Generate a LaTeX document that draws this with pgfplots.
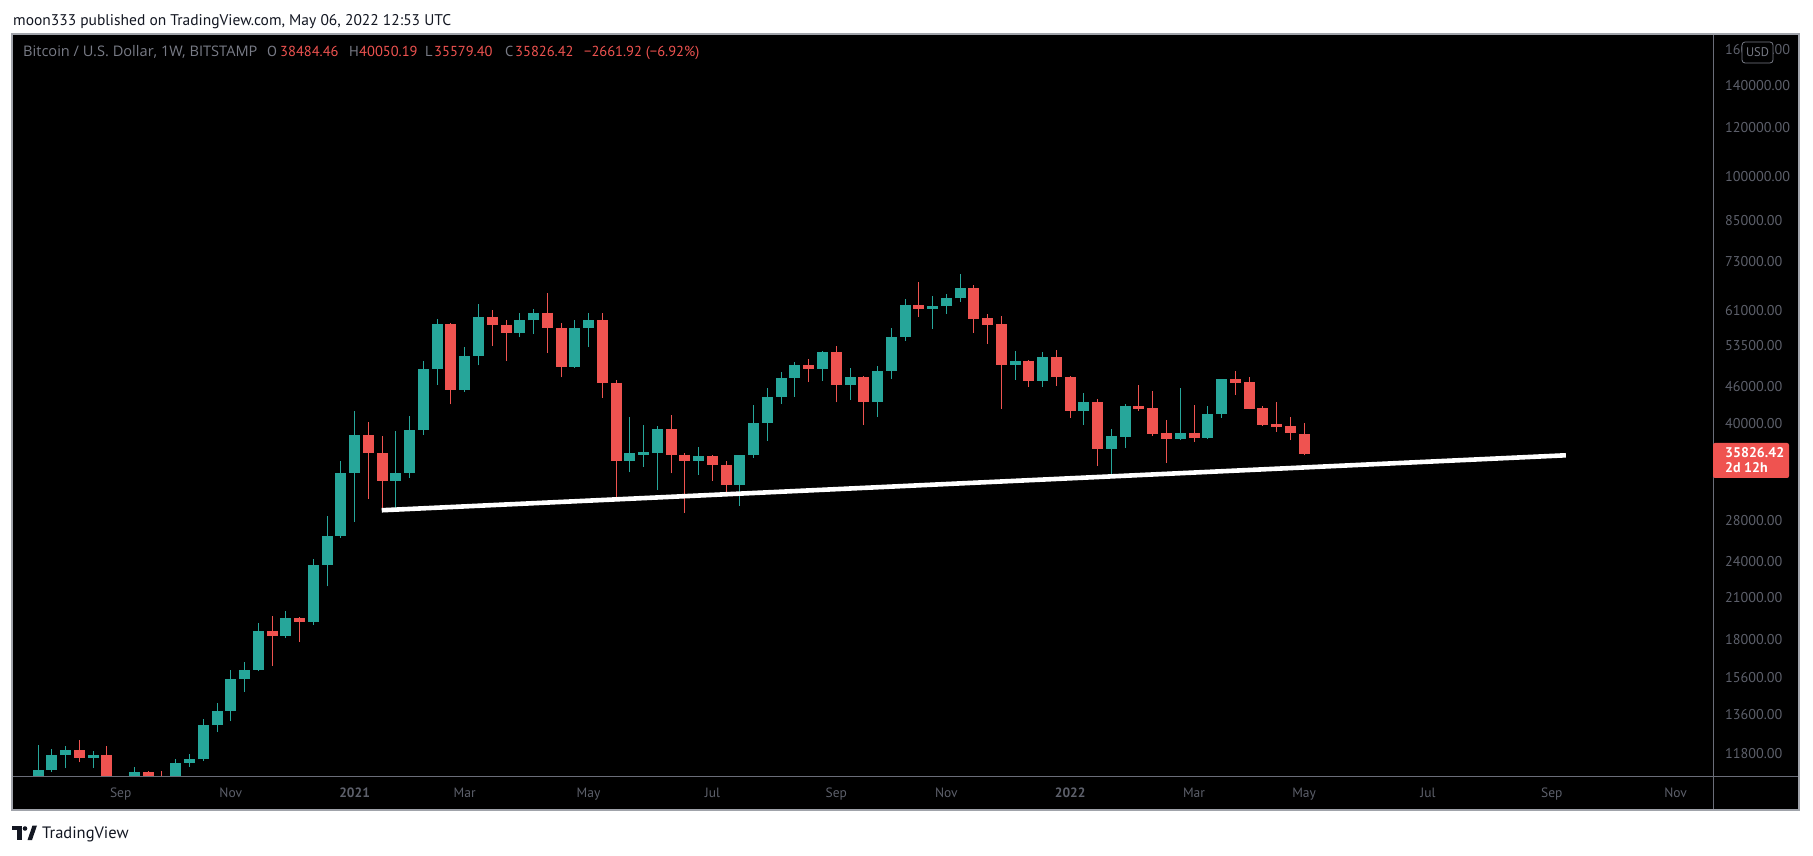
\documentclass[border=0pt]{standalone}
\usepackage{fontspec}
\setmainfont{PT Sans}
\newfontfamily\legfont{Open Sans}
\usepackage{pgfplots}
\usepackage{pgfplotstable}
\pgfplotsset{compat=1.18}
\definecolor{up}{HTML}{26A69A}
\definecolor{dn}{HTML}{EF5350}
\definecolor{lbl}{HTML}{5D606B}
\definecolor{hdr}{HTML}{787B86}
\definecolor{sepc}{HTML}{6A6D78}
\definecolor{ink}{HTML}{131722}

% weekly candles: k = week index (0 = week of 4 Jan 2021)
\pgfplotstableread{
k O H L C
-24 9160 10200 9150 9930
-23 9930 12160 9880 11100
-22 11100 12000 10990 11710
-21 11710 12100 11160 11930
-20 11930 12400 11400 11600
-19 11600 11890 11160 11720
-18 11720 12100 9850 10240
-17 10240 10780 9880 10330
-16 10330 11220 10200 10990
-15 10990 11060 10150 10780
-14 10780 11030 10370 10620
-13 10620 11530 10530 11390
-12 11390 11760 11220 11530
-11 11530 13400 11450 13090
-10 13090 14200 12750 13790
-9 13790 16060 13270 15530
-8 15530 16570 14800 16060
-7 16060 19100 15970 18560
-6 18560 19620 16300 18220
-5 18220 19980 18100 19470
-4 19470 19540 17800 19190
-3 19190 24200 19000 23700
-2 23700 28400 21900 26400
-1 26400 34900 26200 33350
0 33350 42000 27800 38400
1 38400 40200 30300 35900
2 35900 38200 29000 32400
3 32400 39000 29300 33350
4 33350 41200 32700 39100
5 39100 50400 38400 49000
6 49000 58900 46200 57900
7 57900 58100 43000 45400
8 45400 53100 45000 51450
9 51450 62300 49700 59450
10 59450 61000 53400 57800
11 57800 58700 50500 56100
12 56100 60400 55100 58700
13 58700 61300 55800 60400
14 60400 65000 52000 57000
15 57000 58100 47500 49400
16 49400 58700 49200 57100
17 57100 60300 53200 58700
18 58700 60300 44000 46600
19 46600 47100 30300 34860
20 34860 41000 33400 35900
21 35700 39900 34100 36000
22 35900 39700 31300 39250
23 39250 41400 33300 35600
24 35700 35900 28750 34860
25 34860 36700 33100 35510
26 35510 35600 32370 34350
27 34400 34860 31100 31890
28 31890 35700 29500 35650
29 35650 42900 35300 40130
30 40130 45690 37540 44190
31 44190 48490 43060 47430
32 47430 50320 44190 49770
33 49770 50880 46700 49040
34 49040 52430 46900 52230
35 52230 53400 43300 46210
36 46210 49210 43700 47590
37 47590 47800 39840 43380
38 43380 49580 41040 48680
39 48680 57070 47250 55200
40 55200 63550 54390 62150
41 62150 67700 59450 61250
42 61250 64270 56870 61940
43 61940 64750 60110 63800
44 63700 69730 62850 66200
45 66200 66900 56030 59000
46 59220 60110 53790 57640
47 57850 59700 42270 49770
48 49770 52430 47080 50500
49 50500 50690 45860 46900
50 46900 52230 45860 51270
51 51270 52620 46030 47590
52 47590 47800 40880 41950
53 41950 44850 39840 43380
54 43380 43870 34220 36440
55 36440 39250 33220 38240
56 38100 43060 36580 42740
57 42740 46210 41950 42270
58 42420 45190 38240 38530
59 38690 40580 34610 37820
60 37820 45690 37660 38690
61 38690 42910 37380 37970
62 37970 42740 37820 41490
63 41490 47300 40880 47250
64 47250 48680 44520 46550
65 46720 47590 42200 42270
66 42420 42740 39700 39840
67 39990 43380 38820 39590
68 39700 41040 37660 38700
69 38484.46 40050.19 35579.40 35826.42
}\ohlc

% trend line (week index, price)
\pgfplotstableread{
k P
1.97 29034
88.02 35598
}\trend

\pgfplotstablegetrowsof{\ohlc}
\pgfmathtruncatemacro{\lastrow}{\pgfplotsretval-1}

\begin{document}
\begin{tikzpicture}
\useasboundingbox (0pt,0pt) rectangle (1813pt,855pt);
\fill[white] (0pt,0pt) rectangle (1813pt,855pt);
\fill[black] (12pt,45pt) rectangle (1799pt,821pt);

\node[anchor=base west, inner sep=0pt, font=\fontsize{15.5}{18}\selectfont, text=ink]
  at (13pt,829pt) {moon333 published on TradingView.com, May 06, 2022 12:53 UTC};

\begin{axis}[
  at={(12pt,79pt)}, anchor=south west, scale only axis,
  width=1701pt, height=742pt,
  xmin=-24.9, xmax=98.72,
  ymode=log, ymin=10839, ymax=169780,
  axis line style={draw=none},
  tick style={draw=none},
  major tick length=0pt, minor tick length=0pt,
  xtick={-17,-9,0,8,17,26,35,43,52,61,69,78,87,96},
  xticklabels={Sep,Nov,\textbf{2021},Mar,May,Jul,Sep,Nov,\textbf{2022},Mar,May,Jul,Sep,Nov},
  xticklabel style={font=\fontsize{13.5}{16}\selectfont, text=lbl, anchor=base, inner sep=0pt, yshift=-22pt},
  ytick=\empty,
]
\pgfplotsinvokeforeach{0,...,\lastrow}{%
  \pgfplotstablegetelem{#1}{k}\of\ohlc\let\cK\pgfplotsretval
  \pgfplotstablegetelem{#1}{O}\of\ohlc\let\cO\pgfplotsretval
  \pgfplotstablegetelem{#1}{H}\of\ohlc\let\cH\pgfplotsretval
  \pgfplotstablegetelem{#1}{L}\of\ohlc\let\cL\pgfplotsretval
  \pgfplotstablegetelem{#1}{C}\of\ohlc\let\cC\pgfplotsretval
  \ifnum\fpeval{\cC>=\cO}=1 \def\cc{up}\else\def\cc{dn}\fi
  \edef\next{%
    \noexpand\addplot[draw=\cc, line width=1pt, forget plot] coordinates {(\cK,\cL) (\cK,\cH)};%
    \noexpand\addplot[draw=\cc, line width=11pt, forget plot] coordinates {(\cK,\cO) (\cK,\cC)};%
  }\next
}
\addplot[white, line width=4.6pt, forget plot] table[x=k, y=P] {\trend};
\pgfplotsinvokeforeach{11800,13600,15600,18000,21000,24000,28000,40000,46000,53500,61000,73000,85000,100000,120000,140000,160000}{%
  \coordinate (yt#1) at (axis cs:0,#1);
}
\end{axis}

% price scale labels
\foreach \v in {11800,13600,15600,18000,21000,24000,28000,40000,46000,53500,61000,73000,85000,100000,120000,140000,160000}{
  \node[anchor=west, inner sep=0pt, text=lbl, font=\fontsize{14.2}{16}\selectfont] at (1725pt,0pt |- yt\v) {\v.00};
}

% separators and frame
\draw[sepc, line width=1pt] (12pt,79pt) -- (1799pt,79pt);
\draw[sepc, line width=1pt] (1713pt,45pt) -- (1713pt,821pt);
\draw[hdr!70!white, line width=1.3pt] (12pt,45pt) rectangle (1799pt,821pt);

% legend line
\begin{scope}[every node/.style={anchor=base west, inner sep=0pt, font=\fontsize{14.5}{17}\selectfont}]
\node[text=hdr, font=\legfont\fontsize{14.6}{17}\selectfont] at (23pt,798pt) {Bitcoin / U.S. Dollar, 1W, BITSTAMP};
\node[text=hdr] at (267pt,798pt) {O};
\node[text=dn] at (280pt,798pt) {38484.46};
\node[text=hdr] at (349pt,798pt) {H};
\node[text=dn] at (359pt,798pt) {40050.19};
\node[text=hdr] at (425pt,798pt) {L};
\node[text=dn] at (434pt,798pt) {35579.40};
\node[text=hdr] at (505pt,798pt) {C};
\node[text=dn] at (515pt,798pt) {35826.42};
\node[text=dn] at (584pt,798pt) {−2661.92 (−6.92\%)};
\end{scope}

% last price label
\fill[dn, rounded corners=2pt] (1713pt,377pt) rectangle (1789pt,412pt);
\node[anchor=base west, inner sep=0pt, text=white, font=\fontsize{14}{16}\selectfont\bfseries] at (1725pt,397pt) {35826.42};
\node[anchor=base west, inner sep=0pt, text=white, font=\fontsize{14}{16}\selectfont\bfseries] at (1725pt,382pt) {2d 12h};

% USD badge
\draw[hdr, fill=black, rounded corners=3pt, line width=0.8pt] (1742pt,792pt) rectangle (1773pt,813pt);
\node[inner sep=0pt, text=hdr, font=\fontsize{12.5}{15}\selectfont] at (1757.5pt,802.5pt) {USD};

% footer logo
\fill[ink] (12pt,25pt) rectangle (21.5pt,29.5pt);
\fill[ink] (16.5pt,15pt) rectangle (21.5pt,29.5pt);
\fill[ink] (25pt,26.5pt) circle (2.3pt);
\fill[ink] (27.5pt,15pt) -- (32.5pt,29.5pt) -- (37pt,29.5pt) -- (32pt,15pt) -- cycle;
\node[anchor=base west, inner sep=0pt, text=ink, font=\fontsize{16.5}{19}\selectfont] at (42pt,17pt) {TradingView};
\end{tikzpicture}
\end{document}
